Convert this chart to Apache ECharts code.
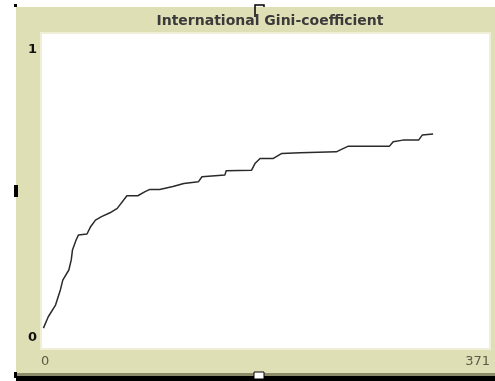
<!DOCTYPE html>
<html>
<head>
<meta charset="utf-8">
<script src="https://cdn.jsdelivr.net/npm/echarts@6/dist/echarts.min.js"></script>
<style>
  html, body { margin: 0; padding: 0; background: #fff; }
  #chart { width: 495px; height: 381px; }
</style>
</head>
<body>
<div id="chart"></div>
<script>
// ticks (time steps) and gini values
const ticks = [2, 6, 12, 16, 18, 23, 25, 26, 29, 31, 38, 41, 45, 50, 57, 63, 71, 80, 86, 90,
  98, 109, 118, 130, 133, 152, 153, 174, 177, 181, 192, 199, 214, 244, 250, 254, 288, 291,
  299, 312, 315, 324];
const gini = [0.066, 0.102, 0.139, 0.187, 0.218, 0.250, 0.282, 0.313, 0.345, 0.361, 0.364,
  0.387, 0.408, 0.419, 0.431, 0.445, 0.485, 0.485, 0.498, 0.505, 0.505, 0.514, 0.524, 0.529,
  0.545, 0.551, 0.564, 0.566, 0.588, 0.603, 0.603, 0.619, 0.621, 0.624, 0.635, 0.642, 0.642,
  0.656, 0.661, 0.661, 0.677, 0.680];
const xRange = [0, 371];
const yRange = [0, 1];
const title = "International Gini-coefficient";

const chart = echarts.init(document.getElementById("chart"));

const beige = "#dfdfb6";
const font = "DejaVu Sans";

chart.setOption({
  backgroundColor: "#fff",
  animation: false,
  title: {
    text: title,
    left: 265,
    textAlign: "center",
    top: 9,
    textStyle: { fontFamily: font, fontSize: 14, fontWeight: "bold", color: "#3a3a3a" },
  },
  graphic: [
    { type: "rect", z: -10, shape: { x: 16, y: 7, width: 479, height: 367 }, style: { fill: beige } },
    { type: "rect", z: -9, shape: { x: 16, y: 373, width: 479, height: 3 }, style: { fill: "#8d8c6a" } },
    { type: "rect", z: -9, shape: { x: 16, y: 376, width: 479, height: 5 }, style: { fill: "#000" } },
    { type: "rect", z: 5, shape: { x: 254, y: 372, width: 10, height: 7 }, style: { fill: "#fff", stroke: "#000", lineWidth: 1 } },
    { type: "rect", z: 5, shape: { x: 14, y: 4, width: 3, height: 3 }, style: { fill: "#000" } },
    { type: "rect", z: 5, shape: { x: 14, y: 185, width: 4, height: 12 }, style: { fill: "#000" } },
    { type: "rect", z: 5, shape: { x: 14, y: 372, width: 3, height: 6 }, style: { fill: "#000" } },
    { type: "polyline", z: 5, shape: { points: [[255, 17], [255, 5], [264, 5], [264, 7]] }, style: { stroke: "#000", lineWidth: 1.5, fill: null } },
  ],
  grid: {
    left: 41, top: 33, right: 5, bottom: 32,
    show: true, backgroundColor: "#fff", borderColor: "#efefd8", borderWidth: 2,
  },
  xAxis: {
    type: "value",
    min: xRange[0], max: xRange[1], interval: xRange[1],
    axisLine: { show: false }, axisTick: { show: false }, splitLine: { show: false },
    axisLabel: {
      margin: 6,
      fontFamily: font, fontSize: 13, color: "#5a5a4a",
      alignMinLabel: "left", alignMaxLabel: "right",
    },
  },
  yAxis: {
    type: "value",
    min: yRange[0], max: yRange[1], interval: 1,
    axisLine: { show: false }, axisTick: { show: false }, splitLine: { show: false },
    axisLabel: {
      margin: 4,
      formatter: v => (v === 1 ? "{t|1}" : "{b|0}"),
      rich: {
        t: { fontFamily: font, fontSize: 13, fontWeight: "bold", color: "#111", padding: [34, 0, 0, 0] },
        b: { fontFamily: font, fontSize: 13, fontWeight: "bold", color: "#111", padding: [0, 0, 22, 0] },
      },
    },
  },
  series: [{
    type: "line",
    data: ticks.map((t, i) => [t, gini[i]]),
    showSymbol: false,
    lineStyle: { color: "#2a2a2a", width: 1.5 },
  }],
});
</script>
</body>
</html>
